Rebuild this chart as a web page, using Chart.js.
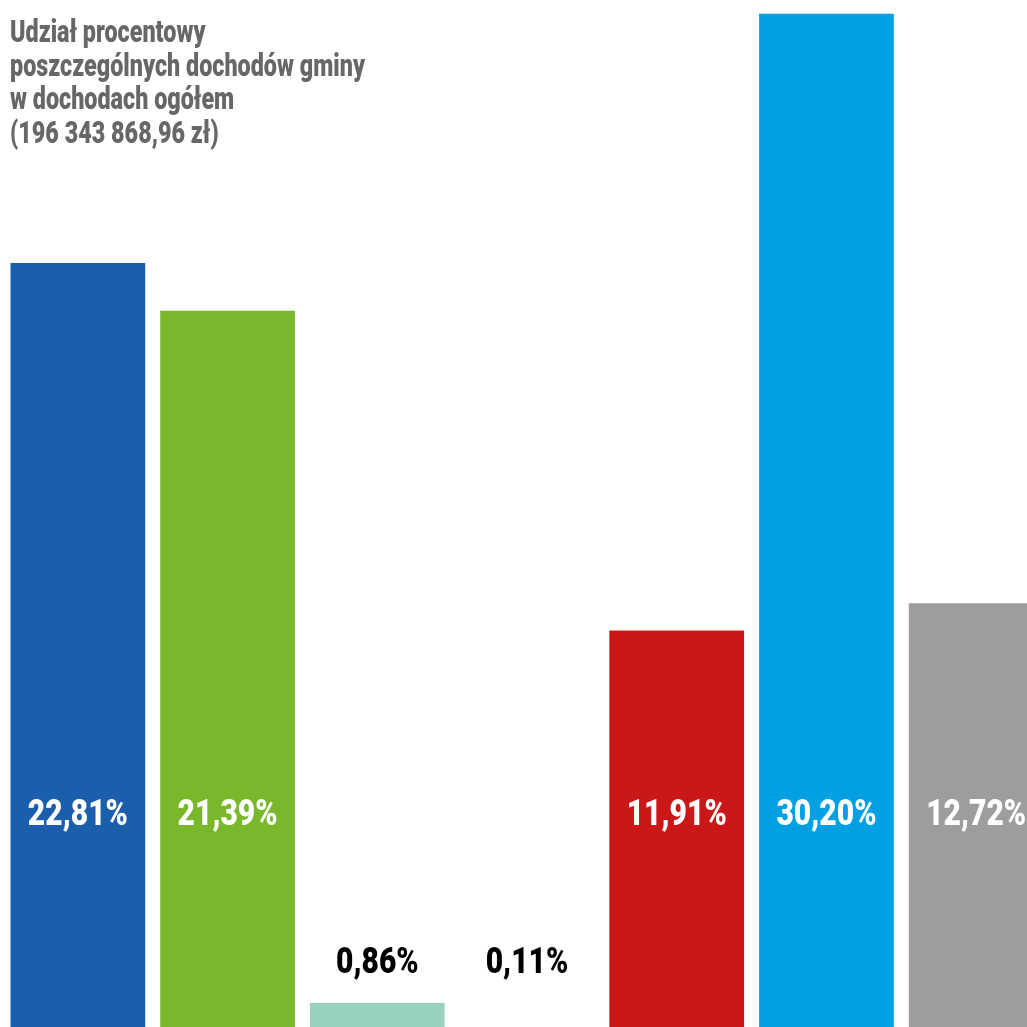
<!DOCTYPE html>
<html lang="pl">
<head>
<meta charset="utf-8">
<title>Udział procentowy dochodów gminy</title>
<script src="https://cdn.jsdelivr.net/npm/chart.js@4.4.1/dist/chart.umd.min.js"></script>
<style>
    html, body {
        margin: 0;
        padding: 0;
        width: 1027px;
        height: 1027px;
        overflow: hidden;
        background: #ffffff;
    }
    #title {
        position: absolute;
        left: 10px;
        top: 15px;
        z-index: 2;
        color: #676767;
        font-family: "Roboto", sans-serif;
        font-weight: 900;
        font-size: 31px;
        line-height: 33.7px;
        white-space: nowrap;
        transform-origin: 0 0;
    }
    #wrap {
        position: absolute;
        left: 2.7px;
        top: 0;
        width: 1048px;
        height: 1032px;
    }
</style>
</head>
<body>
<div id="title"><span>Udział procentowy</span><br><span id="longLine">poszczególnych dochodów gminy</span><br><span>w dochodach ogółem</span><br><span>(196 343 868,96 zł)</span></div>
<div id="wrap"><canvas id="sharesChart" width="1048" height="1032"></canvas></div>
<script>
// Chart data
const categories = ['1', '2', '3', '4', '5', '6', '7'];
const shares = [22.81, 21.39, 0.86, 0.11, 11.91, 30.20, 12.72];
const barColors = ['#1b5eab', '#79b82b', '#99d1c1', '#c8c8c8', '#cc1719', '#00a0e3', '#9d9d9d'];
const yMax = 30.61;

// Format 22.81 -> "22,81%"
function formatShare(v) {
    return v.toFixed(2).replace('.', ',') + '%';
}

// Narrow the title the way the condensed original font looks
function condenseTitle() {
    const title = document.getElementById('title');
    const w = document.getElementById('longLine').getBoundingClientRect().width;
    title.style.transform = 'scaleX(' + (355 / w) + ')';
}

// Draw value labels: white inside tall bars, black above short ones
const shareLabels = {
    id: 'shareLabels',
    afterDatasetsDraw(chart) {
        const ctx = chart.ctx;
        const meta = chart.getDatasetMeta(0);
        const bottom = chart.chartArea.bottom;
        ctx.save();
        ctx.font = '900 37px Roboto, sans-serif';
        ctx.textAlign = 'center';
        ctx.textBaseline = 'alphabetic';
        const sx = 100 / ctx.measureText('22,81%').width;
        meta.data.forEach((bar, i) => {
            const inside = shares[i] > 5;
            ctx.save();
            ctx.translate(bar.x, inside ? bottom - 207 : bottom - 59);
            ctx.scale(sx, 1);
            ctx.fillStyle = inside ? '#ffffff' : '#000000';
            ctx.fillText(formatShare(shares[i]), 0, 0);
            ctx.restore();
        });
        ctx.restore();
    }
};

function createSharesChart() {
    condenseTitle();
    const ctx = document.getElementById('sharesChart');
    new Chart(ctx, {
        type: 'bar',
        data: {
            labels: categories,
            datasets: [{
                data: shares,
                backgroundColor: barColors,
                borderWidth: 0,
                categoryPercentage: 1.0,
                barPercentage: 0.9
            }]
        },
        options: {
            responsive: false,
            animation: false,
            layout: { padding: 0 },
            scales: {
                x: { display: false },
                y: { display: false, min: 0, max: yMax }
            },
            plugins: {
                legend: { display: false },
                tooltip: { enabled: false }
            }
        },
        plugins: [shareLabels]
    });
}

document.addEventListener('DOMContentLoaded', createSharesChart);
</script>
</body>
</html>
